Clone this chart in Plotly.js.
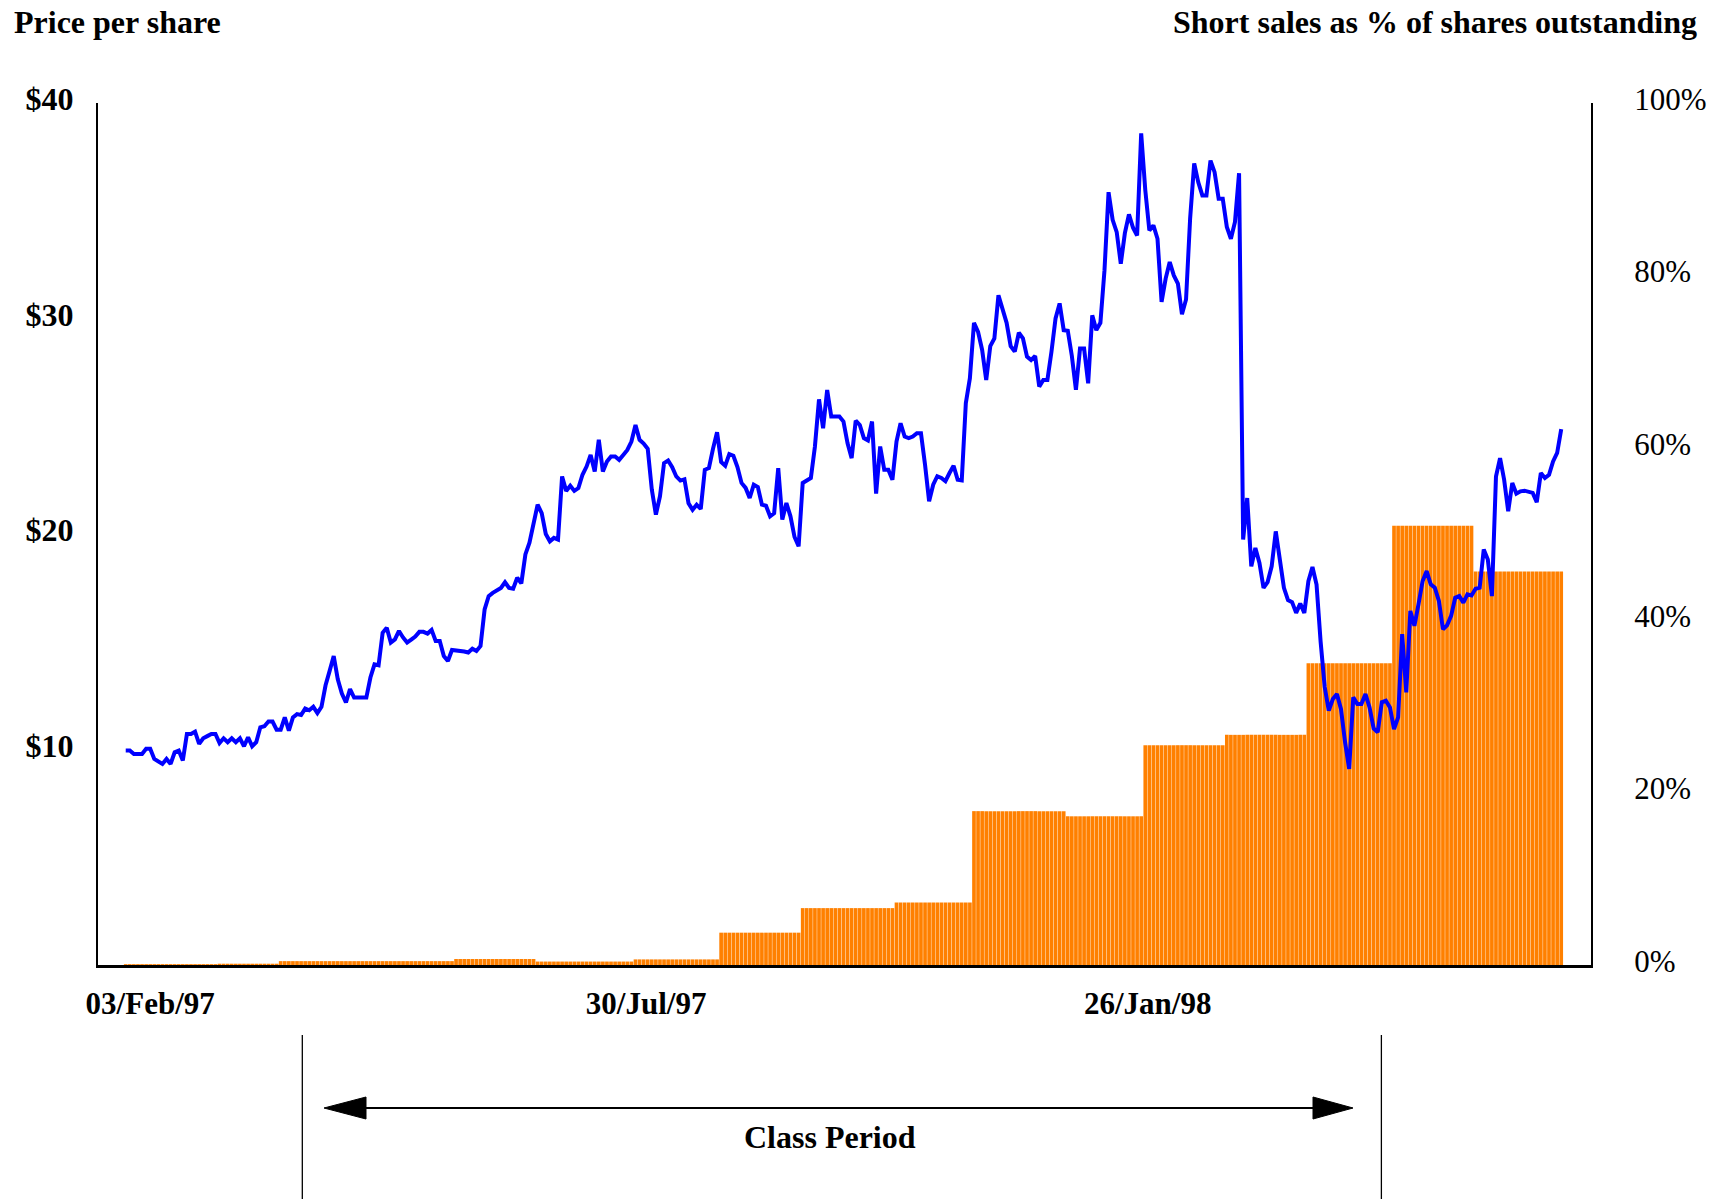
<!DOCTYPE html>
<html>
<head>
<meta charset="utf-8">
<script src="https://cdn.plot.ly/plotly-3.0.1.min.js"></script>
<style>html,body{margin:0;padding:0;background:#fff;}#chart{width:1733px;height:1199px;}</style>
</head>
<body>
<div id="chart"></div>
<script>
// ---- DATA ----
// daily closing price (trading-day sequence starting late Jan 1997)
const price = [
9.95, 9.95, 9.79, 9.79, 9.79, 10.03, 10.03, 9.56, 9.45, 9.33,
9.56, 9.33, 9.87, 9.95, 9.49, 10.72, 10.72, 10.83, 10.26, 10.52,
10.62, 10.72, 10.72, 10.3, 10.52, 10.34, 10.52, 10.34, 10.52, 10.15,
10.57, 10.15, 10.34, 11.03, 11.08, 11.3, 11.3, 10.92, 10.92, 11.49,
10.88, 11.49, 11.64, 11.6, 11.9, 11.82, 11.98, 11.69, 11.98, 12.98,
13.65, 14.34, 13.26, 12.6, 12.18, 12.8, 12.41, 12.41, 12.41, 12.41,
13.34, 13.95, 13.91, 15.42, 15.65, 14.96, 15.11, 15.5, 15.2, 14.96,
15.1, 15.24, 15.46, 15.46, 15.38, 15.55, 15.04, 15.04, 14.34, 14.11,
14.62, 14.6, 14.6, 14.55, 14.5, 14.68, 14.57,
14.8, 16.5, 17.12, 17.27, 17.4, 17.5, 17.76, 17.5, 17.46, 17.97,
17.71, 19.05, 19.6, 20.5, 21.36, 20.97, 20.0, 19.66, 19.82, 19.74,
22.67, 22.0, 22.24, 22.0, 22.13, 22.75, 23.13, 23.67, 22.9, 24.37,
22.9, 23.36, 23.6, 23.6, 23.44, 23.67, 23.9, 24.29, 25.06, 24.37,
24.2, 23.95, 22.06, 20.9, 21.75, 23.29, 23.41, 23.1, 22.67, 22.48,
22.54, 21.43, 21.12, 21.36, 21.16, 22.98, 23.06, 23.95, 24.72, 23.34,
23.17, 23.71, 23.63, 23.11, 22.37, 22.14, 21.67, 22.29, 22.18, 21.36,
21.31, 20.82, 20.97, 23.06, 20.67, 21.44, 20.82, 19.86, 19.43, 22.37,
22.46, 22.6, 24.06, 26.25, 24.91, 26.68, 25.45, 25.45, 25.45, 25.22,
24.21, 23.52, 25.26, 25.06, 24.45, 24.34, 25.22, 21.87, 24.06, 22.98,
22.98, 22.52, 24.29, 25.14, 24.52, 24.45, 24.52, 24.68, 24.68, 23.21,
21.52, 22.29, 22.68, 22.6, 22.45, 22.83, 23.17, 22.52, 22.49, 26.07,
27.23, 29.8, 29.38, 28.54, 27.15, 28.72, 29.08, 31.08, 30.42, 29.8,
28.72, 28.46, 29.34, 29.08, 28.23, 28.07, 28.26, 26.84, 27.15, 27.15,
28.46, 30.0, 30.7, 29.46, 29.43, 28.26, 26.69, 28.61, 28.61, 26.99,
30.15, 29.46, 29.8,
32.23, 35.86, 34.58, 34.01, 32.54, 33.96, 34.83, 34.21, 33.85, 38.59,
35.97, 34.09, 34.32, 33.7, 30.77, 31.85, 32.62, 32.0, 31.62, 30.2,
30.88, 34.63, 37.2, 36.32, 35.71, 35.71, 37.33, 36.79, 35.56, 35.56,
34.25, 33.7, 34.48, 36.74, 19.74, 21.67, 18.5, 19.35, 18.66, 17.5,
17.77, 18.5, 20.12, 18.81, 17.5, 16.93, 16.84, 16.34, 16.77, 16.34,
17.81, 18.47, 17.65, 15.0, 12.9, 11.8, 12.34, 12.57, 11.87, 10.33,
9.1, 12.42, 12.11, 12.11, 12.57, 11.95, 10.98, 10.8, 12.19, 12.26,
11.95, 10.95, 11.49, 15.35, 12.65, 16.43, 15.74, 16.74, 17.81, 18.28,
17.66, 17.51, 16.89, 15.58, 15.76, 16.2, 17.04, 17.12, 16.81, 17.2,
17.15, 17.46, 17.51, 19.28, 18.82, 17.12, 22.67, 23.52, 22.52, 21.06,
22.37, 21.87, 21.98, 22.01, 21.95, 21.91, 21.48, 22.83, 22.6, 22.75,
23.37, 23.76, 24.87
];

// monthly short interest (% of shares outstanding) and the first trading-day index of each period
const shortPeriodStart = [0, 23, 38, 81, 101, 125, 146, 166, 189, 208, 231, 250, 270, 290, 311, 331];
const shortPeriodPct   = [0.1, 0.15, 0.45, 0.7, 0.4, 0.65, 3.75, 6.6, 7.25, 17.85, 17.25, 25.5, 26.7, 35.0, 50.97, 45.65];

// x-axis date labels and the trading-day index where each falls
const dateLabels = ['03/Feb/97', '30/Jul/97', '26/Jan/98'];
const dateLabelIdx = [6, 127.6, 250.6];

const priceTicks = [10, 20, 30, 40];
const priceTickText = ['$10', '$20', '$30', '$40'];
const pctTicks = [0, 20, 40, 60, 80, 100];
const pctTickText = ['0%', '20%', '40%', '60%', '80%', '100%'];

// class period bounds (trading-day index)
const classPeriodIdx = [43.3, 307.9];

// ---- build daily short-interest series from the monthly periods ----
const shortPct = price.map((_, i) => {
  let v = shortPeriodPct[0];
  for (let k = 0; k < shortPeriodStart.length; k++) if (i >= shortPeriodStart[k]) v = shortPeriodPct[k];
  return v;
});

// ---- layout helpers ----
const W = 1733, H = 1199;
const M = {l: 98, r: 142, t: 103, b: 234};
const pw = W - M.l - M.r, ph = H - M.t - M.b;
const xr = [-6.8, 359.3];
const px2x = px => (px - M.l) / pw;
const py2y = py => (H - M.b - py) / ph;
const idx2px = i => M.l + (i - xr[0]) / (xr[1] - xr[0]) * pw;

const FONT = 'Liberation Serif, Times New Roman, serif';

const traces = [
  {
    type: 'bar',
    y: shortPct,
    yaxis: 'y',
    marker: {color: 'rgba(255,128,0,0.999)', line: {width: 0}},
    hoverinfo: 'skip'
  },
  {
    type: 'scatter',
    mode: 'lines',
    y: price,
    yaxis: 'y2',
    line: {color: '#0000ff', width: 4},
    hoverinfo: 'skip'
  }
];

const arrowY = 1108, tipL = 324, baseL = 366, baseR = 1313, tipR = 1353, hh = 11;
const cx0 = idx2px(classPeriodIdx[0]), cx1 = idx2px(classPeriodIdx[1]);

const layout = {
  width: W, height: H,
  margin: M,
  paper_bgcolor: '#fff', plot_bgcolor: '#fff',
  showlegend: false,
  bargap: 0.1,
  font: {family: FONT, color: '#000'},
  xaxis: {
    range: xr,
    tickvals: dateLabelIdx, ticktext: dateLabels,
    tickfont: {family: FONT, size: 31, weight: 'bold', color: '#000'},
    ticks: '', ticklabelstandoff: 9,
    showgrid: false, zeroline: false,
    showline: true, linecolor: '#000', linewidth: 2.5
  },
  yaxis: {
    side: 'right',
    range: [0, 100],
    tickvals: pctTicks, ticktext: pctTickText,
    tickfont: {family: FONT, size: 31, color: '#000'},
    ticks: '', ticklabelstandoff: 35, ticklabelshift: -4,
    showgrid: false, zeroline: false,
    showline: true, linecolor: '#000', linewidth: 2
  },
  yaxis2: {
    overlaying: 'y', side: 'left',
    range: [0, 40],
    tickvals: priceTicks, ticktext: priceTickText,
    tickfont: {family: FONT, size: 32, weight: 'bold', color: '#000'},
    ticks: '', ticklabelstandoff: 16, ticklabelshift: -4,
    showgrid: false, zeroline: false,
    showline: true, linecolor: '#000', linewidth: 2
  },
  annotations: [
    {text: 'Price per share', xref: 'paper', yref: 'paper', x: px2x(12), y: py2y(22),
     xanchor: 'left', yanchor: 'middle', showarrow: false,
     font: {family: FONT, size: 32, weight: 'bold', color: '#000'}},
    {text: 'Short sales as % of shares outstanding', xref: 'paper', yref: 'paper', x: px2x(1699), y: py2y(22),
     xanchor: 'right', yanchor: 'middle', showarrow: false,
     font: {family: FONT, size: 32, weight: 'bold', color: '#000'}},
    {text: 'Class Period', xref: 'paper', yref: 'paper', x: px2x(830), y: py2y(1137),
     xanchor: 'center', yanchor: 'middle', showarrow: false,
     font: {family: FONT, size: 32, weight: 'bold', color: '#000'}}
  ],
  shapes: [
    {type: 'line', xref: 'paper', yref: 'paper', x0: px2x(cx0), x1: px2x(cx0), y0: py2y(1035), y1: py2y(1199),
     line: {color: '#000', width: 1.3}},
    {type: 'line', xref: 'paper', yref: 'paper', x0: px2x(cx1), x1: px2x(cx1), y0: py2y(1035), y1: py2y(1199),
     line: {color: '#000', width: 1.3}},
    {type: 'line', xref: 'paper', yref: 'paper', x0: px2x(baseL), x1: px2x(baseR), y0: py2y(arrowY), y1: py2y(arrowY),
     line: {color: '#000', width: 2}},
    {type: 'path', xref: 'paper', yref: 'paper',
     path: `M ${px2x(tipL)},${py2y(arrowY)} L ${px2x(baseL)},${py2y(arrowY - hh)} L ${px2x(baseL)},${py2y(arrowY + hh)} Z`,
     fillcolor: '#000', line: {color: '#000', width: 1}},
    {type: 'path', xref: 'paper', yref: 'paper',
     path: `M ${px2x(tipR)},${py2y(arrowY)} L ${px2x(baseR)},${py2y(arrowY - hh)} L ${px2x(baseR)},${py2y(arrowY + hh)} Z`,
     fillcolor: '#000', line: {color: '#000', width: 1}}
  ]
};

Plotly.newPlot('chart', traces, layout, {displayModeBar: false, responsive: false});
</script>
</body>
</html>
